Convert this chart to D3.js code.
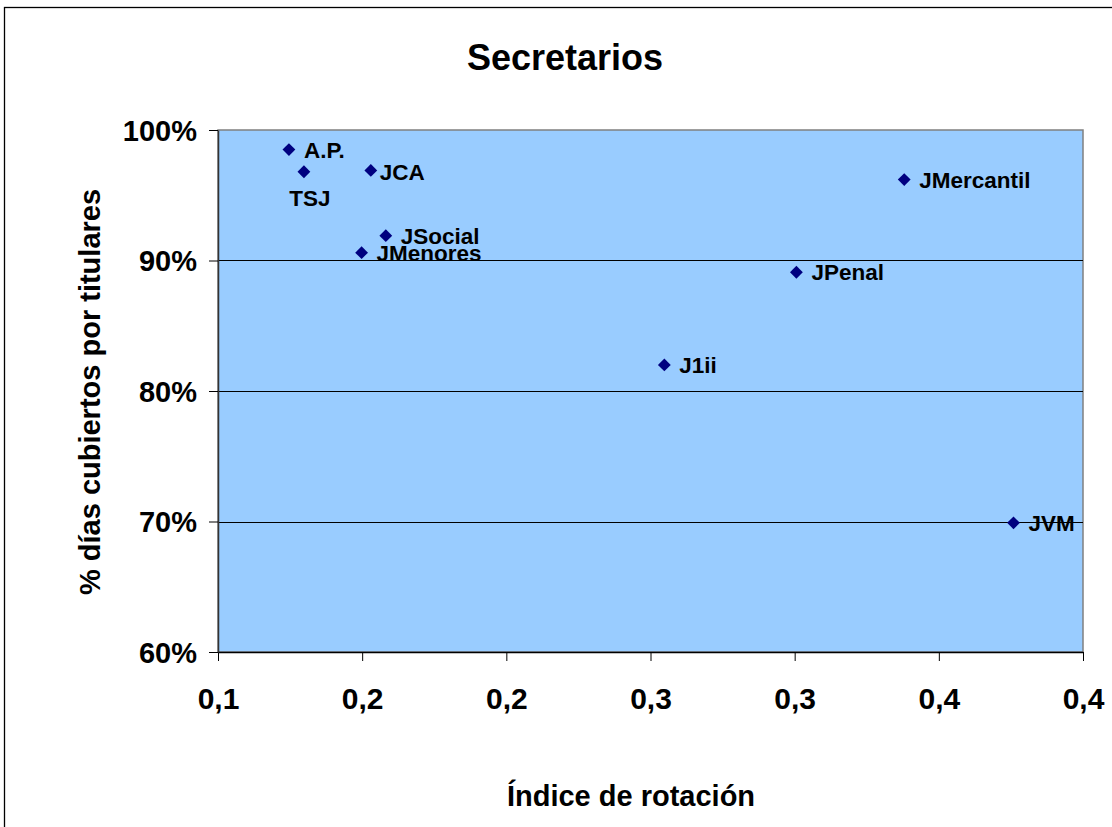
<!DOCTYPE html>
<html>
<head>
<meta charset="utf-8">
<script src="https://cdn.jsdelivr.net/npm/d3@7"></script>
<style>
  body { margin: 0; background: #fff; }
  svg text { font-family: "Liberation Sans", Arial, sans-serif; font-weight: bold; }
</style>
</head>
<body>
<svg id="chart" width="1112" height="827"></svg>
<script>
// data
const names = ['A.P.', 'TSJ', 'JCA', 'JSocial', 'JMenores', 'JMercantil', 'JPenal', 'J1ii', 'JVM'];
const rotacion = [0.1246, 0.1298, 0.1530, 0.1582, 0.1498, 0.3380, 0.3006, 0.2548, 0.3759];
const cubiertos = [0.985, 0.968, 0.969, 0.919, 0.906, 0.962, 0.891, 0.820, 0.699];

const xTicks = [0.10, 0.15, 0.20, 0.25, 0.30, 0.35, 0.40];
const xTickLabels = ['0,1', '0,2', '0,2', '0,3', '0,3', '0,4', '0,4'];
const yTicks = [0.6, 0.7, 0.8, 0.9, 1.0];
const gridValues = [0.7, 0.8, 0.9];

// where each label sits relative to its marker
const labelOffsets = [[15, 0], [6, 26], [9, 1], [15, 0], [15, 0], [15, 0], [15, 0], [15, 0], [15, 0]];

const w = 1112, h = 827;
const plot = { left: 218, top: 130, right: 1083, bottom: 652 };

const svg = d3.select('#chart');

// outer chart frame (runs off the page on right/bottom)
svg.append('rect')
    .attr('x', 4.5).attr('y', 7.5)
    .attr('width', w + 10).attr('height', h + 10)
    .attr('fill', '#fff')
    .attr('stroke', '#000')
    .attr('stroke-width', 1.3);

const xScale = d3.scaleLinear().domain([0.1, 0.4]).range([plot.left, plot.right]);
const yScale = d3.scaleLinear().domain([0.6, 1.0]).range([plot.bottom, plot.top]);

// plot area
svg.append('rect')
    .attr('x', plot.left).attr('y', plot.top)
    .attr('width', plot.right - plot.left)
    .attr('height', plot.bottom - plot.top)
    .attr('fill', '#99ccff')
    .attr('stroke', '#808080')
    .attr('stroke-width', 1.5);

svg.append('g')
    .selectAll('line')
    .data(gridValues)
    .join('line')
    .attr('x1', plot.left).attr('x2', plot.right)
    .attr('y1', d => Math.round(yScale(d)) + 0.5)
    .attr('y2', d => Math.round(yScale(d)) + 0.5)
    .attr('stroke', '#000')
    .attr('stroke-width', 1);

const xAxis = d3.axisBottom(xScale)
    .tickValues(xTicks)
    .tickFormat((d, i) => xTickLabels[i])
    .tickSizeInner(9)
    .tickSizeOuter(0)
    .tickPadding(27);

const yAxis = d3.axisLeft(yScale)
    .tickValues(yTicks)
    .tickFormat(d => Math.round(d * 100) + '%')
    .tickSizeInner(9)
    .tickSizeOuter(0)
    .tickPadding(12);

const gx = svg.append('g')
    .attr('transform', `translate(0, ${plot.bottom})`)
    .call(xAxis);
gx.select('.domain').attr('stroke', '#000').attr('stroke-width', 1.5);
gx.selectAll('.tick line').attr('stroke', '#000');
gx.selectAll('.tick text')
    .attr('fill', '#000')
    .style('font-size', '30px');

const gy = svg.append('g')
    .attr('transform', `translate(${plot.left}, 0)`)
    .call(yAxis);
gy.select('.domain').attr('stroke', '#333').attr('stroke-width', 1.5);
gy.selectAll('.tick line').attr('stroke', '#000');
gy.selectAll('.tick text')
    .attr('fill', '#000')
    .attr('dy', '0.36em')
    .style('font-size', '29px');

// markers
const diamond = d3.symbol().type(d3.symbolSquare).size(82);
const pts = names.map((n, i) => ({ name: n, x: rotacion[i], y: cubiertos[i], off: labelOffsets[i] }));

svg.append('g')
    .selectAll('path')
    .data(pts)
    .join('path')
    .attr('d', diamond)
    .attr('transform', d => `translate(${xScale(d.x)}, ${yScale(d.y)}) rotate(45)`)
    .attr('fill', '#000080');

svg.append('g')
    .selectAll('text')
    .data(pts)
    .join('text')
    .attr('x', d => xScale(d.x) + d.off[0])
    .attr('y', d => yScale(d.y) + d.off[1])
    .attr('dy', '0.36em')
    .attr('text-anchor', d => d.off[1] > 10 ? 'middle' : 'start')
    .style('font-size', '22.5px')
    .attr('fill', '#000')
    .text(d => d.name);

// titles
svg.append('text')
    .attr('x', 565).attr('y', 70)
    .attr('text-anchor', 'middle')
    .style('font-size', '36px')
    .text('Secretarios');

svg.append('text')
    .attr('x', 631).attr('y', 806)
    .attr('text-anchor', 'middle')
    .style('font-size', '29px')
    .text('Índice de rotación');

svg.append('text')
    .attr('transform', 'translate(100, 392) rotate(-90)')
    .attr('text-anchor', 'middle')
    .style('font-size', '29px')
    .text('% días cubiertos por titulares');
</script>
</body>
</html>
